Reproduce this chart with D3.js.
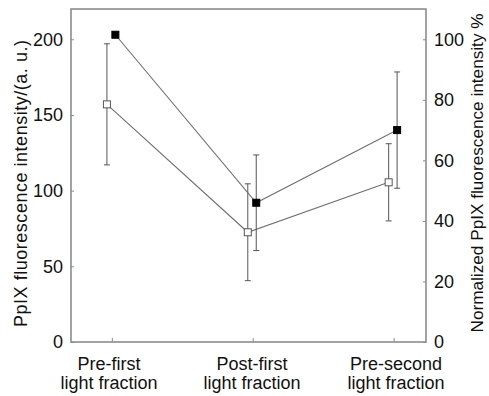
<!DOCTYPE html>
<html>
<head>
<meta charset="utf-8">
<style>
    body { margin: 0; background: white; }
    text { font-family: 'Liberation Sans', Arial, sans-serif; fill: #111; }
</style>
<script src="https://d3js.org/d3.v7.min.js"></script>
</head>
<body>
<svg width="489" height="396"></svg>
<script>
// categories and series values
var categories = [["Pre-first", "light fraction"], ["Post-first", "light fraction"], ["Pre-second", "light fraction"]];
var absMean = [157, 72.5, 105.5];   // open squares, left axis (a. u.)
var absErr = [40, 32, 25.5];
var normMean = [101.5, 46, 70];     // filled squares, right axis (%)
var normErr = [0, 15.8, 19.2];
var leftTicks = [0, 50, 100, 150, 200];
var rightTicks = [0, 20, 40, 60, 80, 100];

var plotL = 71, plotR = 426, plotT = 9, plotB = 342;
var svg = d3.select('svg');

var x = d3.scaleLinear().domain([-0.29, 2.23]).range([plotL, plotR]);
var yL = d3.scaleLinear().domain([0, 220]).range([plotB, plotT]);
var yR = d3.scaleLinear().domain([0, 110]).range([plotB, plotT]);

var frame = '#8c8c8c';
var lineCol = '#707070';

// frame
svg.append('rect')
    .attr('x', plotL).attr('y', plotT)
    .attr('width', plotR - plotL).attr('height', plotB - plotT)
    .attr('fill', 'none').attr('stroke', frame).attr('stroke-width', 1.6);

// axes (ticks inward)
var axL = svg.append('g').attr('transform', 'translate(' + plotL + ',0)')
    .call(d3.axisLeft(yL).tickValues(leftTicks).tickSize(-3).tickPadding(8));
var axR = svg.append('g').attr('transform', 'translate(' + plotR + ',0)')
    .call(d3.axisRight(yR).tickValues(rightTicks).tickSize(-3).tickPadding(8));
var axB = svg.append('g').attr('transform', 'translate(0,' + plotB + ')')
    .call(d3.axisBottom(x).tickValues([0, 1, 2]).tickSize(-4).tickFormat(''));
[axL, axR, axB].forEach(function (g) {
    g.select('.domain').remove();
    g.selectAll('line').attr('stroke', frame);
    g.selectAll('text').style('font-size', '18px').attr('fill', '#111');
});

// category labels
var labelX = [109, 252, 396];
categories.forEach(function (c, i) {
    var t = svg.append('text')
        .attr('y', 370)
        .attr('text-anchor', 'middle')
        .style('font-size', '18px');
    t.append('tspan').attr('x', labelX[i]).text(c[0]);
    t.append('tspan').attr('x', labelX[i]).attr('dy', 18.5).text(c[1]);
});

// axis titles
svg.append('text')
    .attr('transform', 'translate(27,183.5) rotate(-90)')
    .attr('text-anchor', 'middle')
    .attr('textLength', 287)
    .style('font-size', '18px')
    .text('PpIX fluorescence intensity/(a. u.)');
svg.append('text')
    .attr('transform', 'translate(483,173) rotate(-90)')
    .attr('text-anchor', 'middle')
    .style('font-size', '17.2px')
    .text('Normalized PpIX fluorescence intensity %');

function drawSeries(means, errs, y, off, filled) {
    var g = svg.append('g');
    var pts = means.map(function (m, i) { return [x(i + off), y(m)]; });
    g.append('path')
        .attr('d', d3.line()(pts))
        .attr('fill', 'none').attr('stroke', lineCol).attr('stroke-width', 1.1);
    means.forEach(function (m, i) {
        if (!errs[i]) return;
        var cx = x(i + off);
        g.append('line')
            .attr('x1', cx).attr('x2', cx)
            .attr('y1', y(m - errs[i])).attr('y2', y(m + errs[i]))
            .attr('stroke', '#555').attr('stroke-width', 1);
        [m - errs[i], m + errs[i]].forEach(function (v) {
            g.append('line')
                .attr('x1', cx - 3).attr('x2', cx + 3)
                .attr('y1', y(v)).attr('y2', y(v))
                .attr('stroke', '#555').attr('stroke-width', 1);
        });
    });
    g.selectAll('rect.pt').data(means).enter().append('rect')
        .attr('x', function (d, i) { return x(i + off) - 3.5; })
        .attr('y', function (d) { return y(d) - 3.5; })
        .attr('width', 7).attr('height', 7)
        .attr('fill', filled ? '#000' : '#fff')
        .attr('stroke', filled ? '#000' : '#555')
        .attr('stroke-width', 1);
}

drawSeries(absMean, absErr, yL, -0.035, false);
drawSeries(normMean, normErr, yR, 0.025, true);
</script>
</body>
</html>
